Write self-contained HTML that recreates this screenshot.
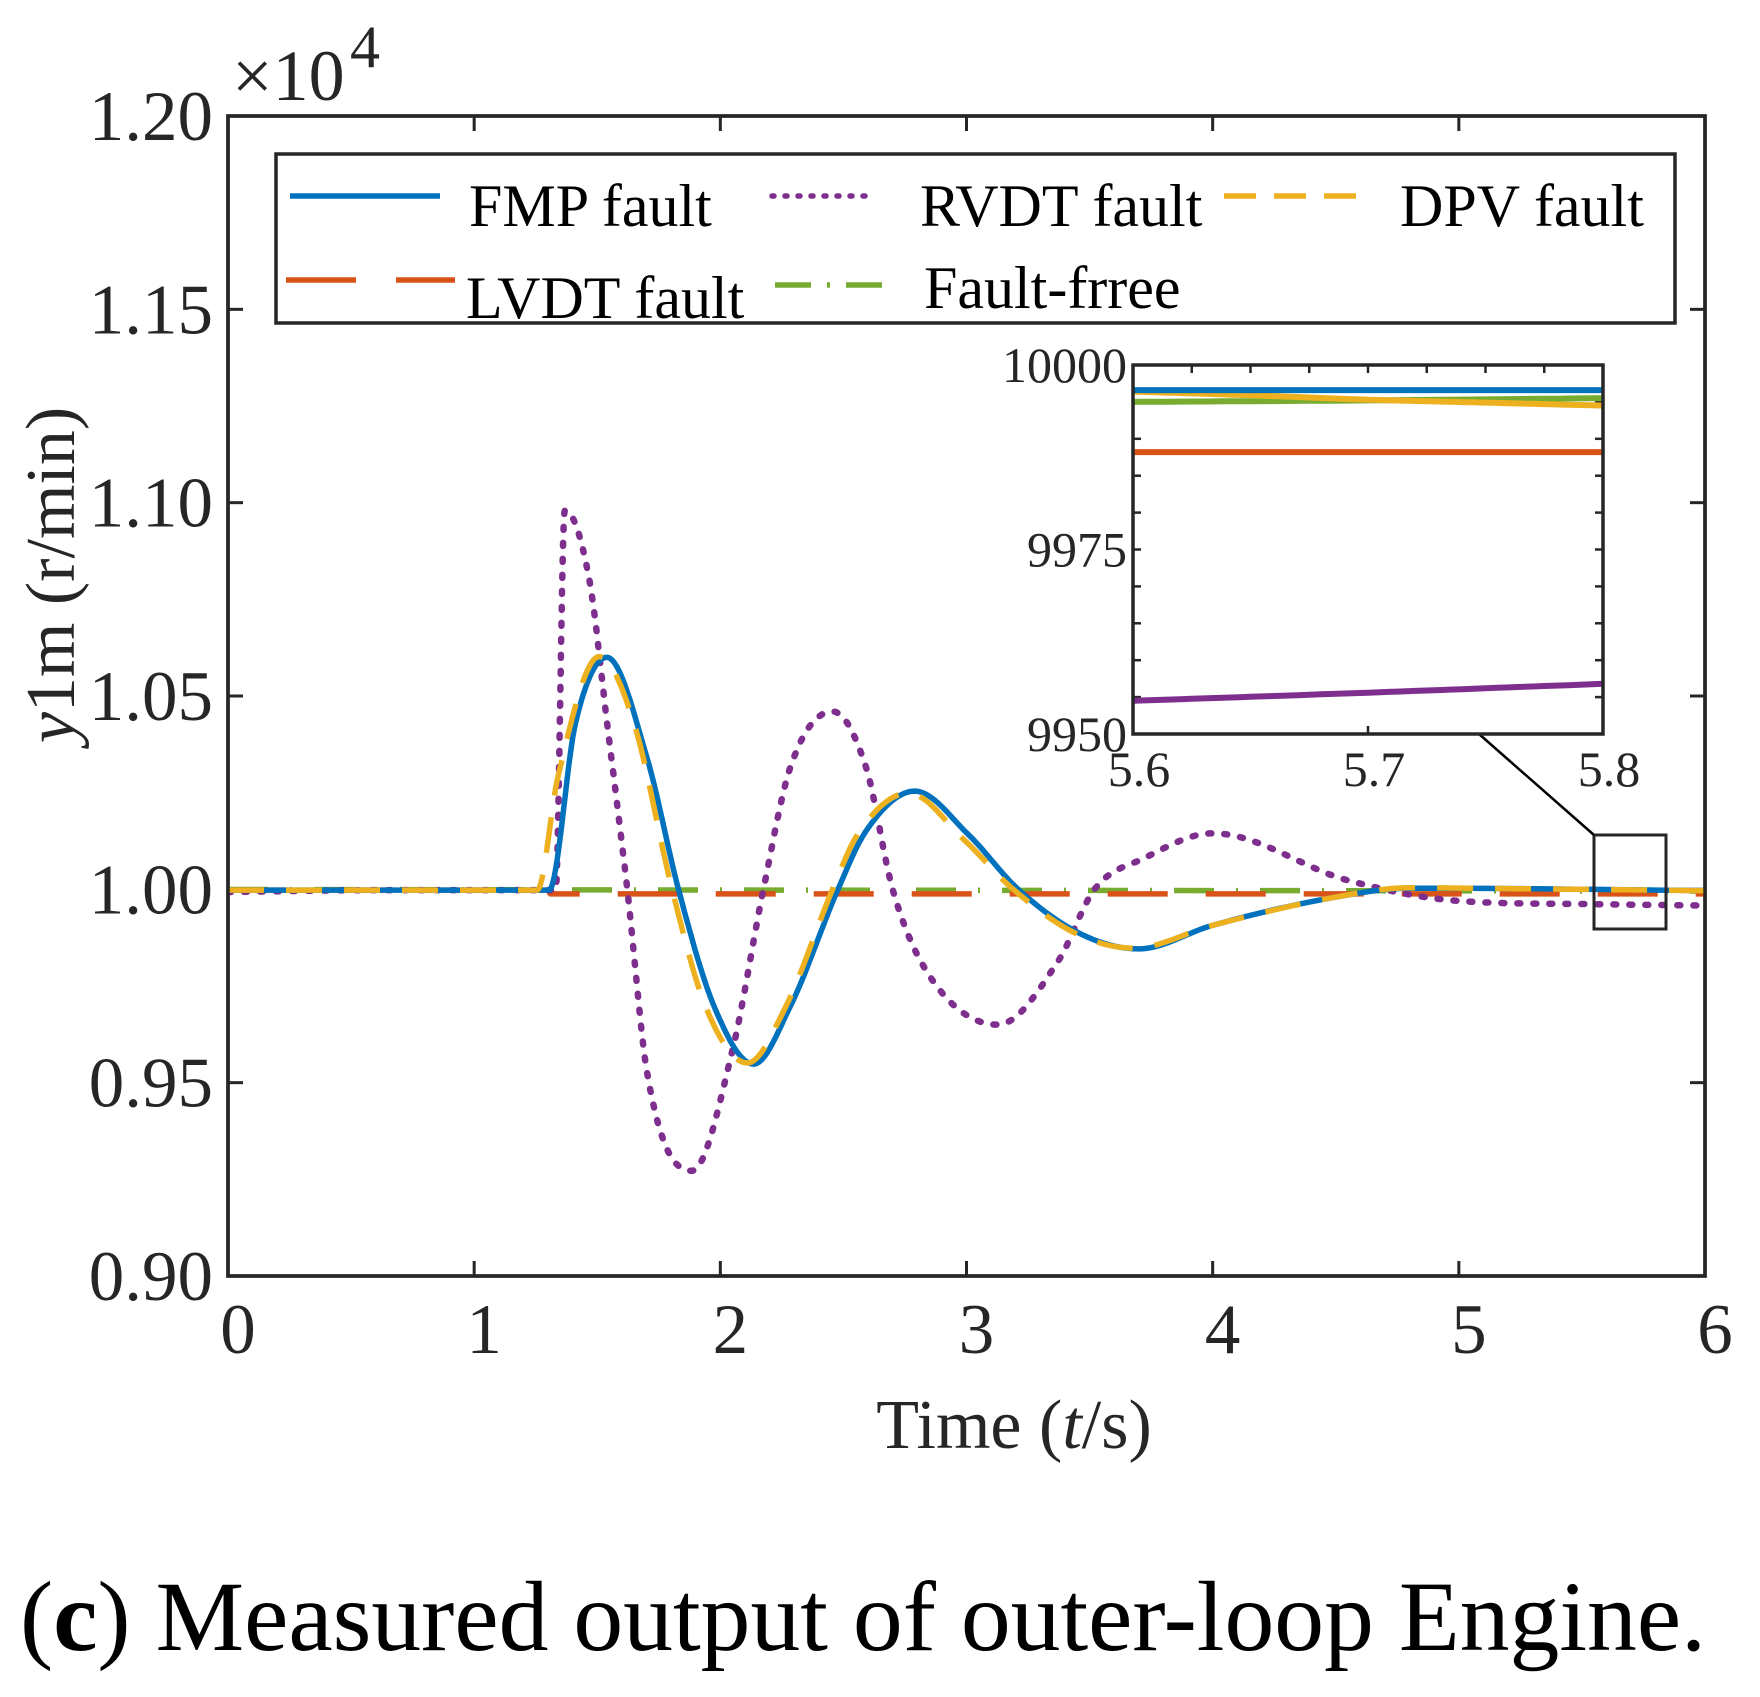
<!DOCTYPE html>
<html><head><meta charset="utf-8"><style>
html,body{margin:0;padding:0;background:#fff;}
svg{display:block;font-family:"Liberation Serif",serif;}
</style></head><body>
<svg id="chart" width="1760" height="1697" viewBox="0 0 1760 1697" xmlns="http://www.w3.org/2000/svg">
<defs>
<clipPath id="mainClip"><rect x="228" y="116" width="1477" height="1160"/></clipPath>
<clipPath id="insetClip"><rect x="1133" y="365" width="470" height="369"/></clipPath>
</defs>
<g id="main"></g>
<g id="inset"></g>
<text x="20" y="1650" font-size="100" textLength="1686" lengthAdjust="spacingAndGlyphs" fill="#000">(<tspan font-weight="bold">c</tspan>) Measured output of outer-loop Engine.</text>
</svg>
<script>
// ---- main chart data ----
const xTicks = [0,1,2,3,4,5,6];
const yTicks = [0.90,0.95,1.00,1.05,1.10,1.15,1.20];
const yTickLabels = ["0.90","0.95","1.00","1.05","1.10","1.15","1.20"];
const fmpT = [0,0.5,1.0,1.304,1.412,1.539,1.703,1.830,1.975,2.135,2.284,2.478,2.592,2.79,3.01,3.21,3.466,3.70,4.0,4.5,4.8,5.2,6.0];
const fmpV = [0.9998,0.9998,0.9998,0.9998,1.0431,1.0600,1.0338,1.0,0.9697,0.9548,0.9697,1.0,1.0151,1.0254,1.014,1.0,0.9884,0.9846,0.9907,0.998,1.0003,1.0002,0.99967];
const dpvT = [0,0.5,1.0,1.256,1.34,1.508,1.649,1.804,1.94,2.11,2.266,2.456,2.556,2.764,2.99,3.19,3.45,3.68,4.0,4.5,4.8,5.2,6.0];
const dpvV = [0.9998,0.9998,0.9998,0.9998,1.029,1.0602,1.043,1.0,0.9697,0.9551,0.9697,1.0,1.014,1.0249,1.0128,1.0,0.9884,0.9848,0.9907,0.998,1.0004,1.0002,0.99965];
const rvdtT = [0,0.3,0.6,1.0,1.331,1.368,1.468,1.540,1.622,1.704,1.885,2.048,2.175,2.284,2.456,2.592,2.70,2.846,3.127,3.372,3.52,3.72,4.0,4.55,5.0,5.5,6.0];
const rvdtV = [0.9993,0.9996,0.9998,0.9998,0.9998,1.098,1.080,1.043,1.0,0.952,0.9272,0.958,1.0,1.0315,1.046,1.0315,1.0,0.978,0.965,0.9814,1.0,1.008,1.0145,1.0023,0.997,0.9962,0.9958];
const lvdtT = [0,1.3,1.31,6.0];
const lvdtV = [0.9998,0.9998,0.99882,0.99882];
const freeT = [0,6.0];
const freeV = [0.99995,0.99955];
// ---- inset data (r/min) ----
const insetXTicks = [5.6,5.7,5.8];
const insetYTicks = [9950,9975,10000];
const inFmpT = [5.6,5.7,5.8];   const inFmpV = [9996.6,9996.6,9996.6];
const inDpvT = [5.6,5.65,5.7,5.75,5.8]; const inDpvV = [9996.4,9995.9,9995.3,9994.9,9994.5];
const inFreeT = [5.6,5.7,5.8];  const inFreeV = [9995.0,9995.2,9995.5];
const inLvdtT = [5.6,5.7,5.8];  const inLvdtV = [9988.2,9988.2,9988.2];
const inRvdtT = [5.6,5.7,5.8];  const inRvdtV = [9954.5,9955.6,9956.8];

const NS="http://www.w3.org/2000/svg";
function mk(tag,attrs,parent){const e=document.createElementNS(NS,tag);for(const k in attrs)e.setAttribute(k,attrs[k]);parent.appendChild(e);return e;}
const P={L:228,R:1705,T:116,B:1276};
const xS=t=>P.L+(t-0)/6*(P.R-P.L);
const yS=v=>P.B-(v-0.90)/0.30*(P.B-P.T);
const I={L:1133,R:1603,T:365,B:734};
const ixS=t=>I.L+(t-5.6)/0.2*(I.R-I.L);
const iyS=v=>I.B-(v-9950)/50*(I.B-I.T);

function monoPath(T,V,xf,yf){
  const n=T.length;const xs=T.map(xf),ys=V.map(yf);
  if(n<3){return "M"+xs.map((x,i)=>x.toFixed(1)+","+ys[i].toFixed(1)).join(" L");}
  const d=[],m=new Array(n);
  for(let i=0;i<n-1;i++)d.push((V[i+1]-V[i])/(T[i+1]-T[i]));
  m[0]=d[0];m[n-1]=d[n-2];
  for(let i=1;i<n-1;i++){m[i]=(d[i-1]*d[i]<=0)?0:(d[i-1]+d[i])/2;}
  for(let i=0;i<n-1;i++){if(d[i]===0){m[i]=0;m[i+1]=0;continue;}const a=m[i]/d[i],b=m[i+1]/d[i],s=a*a+b*b;if(s>9){const t=3/Math.sqrt(s);m[i]=t*a*d[i];m[i+1]=t*b*d[i];}}
  let p="M"+xs[0].toFixed(1)+","+ys[0].toFixed(1);
  for(let i=0;i<n-1;i++){const h=T[i+1]-T[i];
    for(let k=1;k<=20;k++){const s=k/20,s2=s*s,s3=s2*s;
      const v=(2*s3-3*s2+1)*V[i]+(s3-2*s2+s)*h*m[i]+(-2*s3+3*s2)*V[i+1]+(s3-s2)*h*m[i+1];
      p+=" L"+xf(T[i]+s*h).toFixed(1)+","+yf(v).toFixed(1);}}
  return p;
}
const C={fmp:"#0072BD",lvdt:"#D95319",rvdt:"#7E2F8E",dpv:"#EDB120",free:"#77AC30",ax:"#262626"};
const styles={
 fmp:{stroke:C.fmp,dash:null,w:5.5},
 lvdt:{stroke:C.lvdt,dash:"60 38",w:5.5},
 rvdt:{stroke:C.rvdt,dash:"3 13",cap:"round",w:6.5},
 dpv:{stroke:C.dpv,dash:"36 22",w:5.5},
 free:{stroke:C.free,dash:"40 22 2 22",w:5.5}
};
const main=document.getElementById('main');
const inset=document.getElementById('inset');

let r=mk('rect',{x:P.L,y:P.T,width:P.R-P.L,height:P.B-P.T,fill:'#fff',stroke:C.ax,'stroke-width':3.5},main);


xTicks.forEach(t=>{const x=xS(t);
  let a=mk('line',{x1:x,y1:P.B,x2:x,y2:P.B-15,stroke:C.ax,'stroke-width':3},main);
  
  
  let b=mk('line',{x1:x,y1:P.T,x2:x,y2:P.T+15,stroke:C.ax,'stroke-width':3},main);
  
  
  let tx=mk('text',{x:x+10,y:1353,'font-size':71,'text-anchor':'middle',fill:C.ax},main);tx.textContent=String(t);
  
  
});
yTicks.forEach((v,i)=>{const y=yS(v);
  let a=mk('line',{x1:P.L,y1:y,x2:P.L+15,y2:y,stroke:C.ax,'stroke-width':3},main);
  
  
  let b=mk('line',{x1:P.R,y1:y,x2:P.R-15,y2:y,stroke:C.ax,'stroke-width':3},main);
  
  
  let tx=mk('text',{x:213,y:y+24,'font-size':71,'text-anchor':'end',fill:C.ax},main);tx.textContent=yTickLabels[i];
  
  
});
const series=[["free",freeT,freeV],["lvdt",lvdtT,lvdtV],["rvdt",rvdtT,rvdtV],["fmp",fmpT,fmpV],["dpv",dpvT,dpvV]];
const gS=mk('g',{'clip-path':'url(#mainClip)'},main);


series.forEach(([k,T,V])=>{const st=styles[k];
  const a={d:monoPath(T,V,xS,yS),fill:'none',stroke:st.stroke,'stroke-width':st.w,'stroke-linecap':st.cap||'butt','stroke-linejoin':'round'};
  if(st.dash)a['stroke-dasharray']=st.dash;
  const p=mk('path',a,gS);
  
  
});
let fr=mk('rect',{x:P.L,y:P.T,width:P.R-P.L,height:P.B-P.T,fill:'none',stroke:C.ax,'stroke-width':3.5},main);


let ex=mk('text',{x:232,y:100,'font-size':72,fill:C.ax},main);ex.textContent='×10';


let ex4=mk('text',{x:350,y:67,'font-size':60,fill:C.ax},main);ex4.textContent='4';


let xt=mk('text',{x:1014,y:1448,'font-size':70,'text-anchor':'middle',fill:C.ax},main);
xt.innerHTML='Time (<tspan font-style="italic">t</tspan>/s)';


let yt=mk('text',{x:0,y:0,'font-size':70,'text-anchor':'middle',fill:C.ax,transform:'translate(74,575) rotate(-90)'},main);
yt.innerHTML='<tspan font-style="italic">y</tspan>1m (r/min)';



const lg=mk('g',{},main);


let lb=mk('rect',{x:276,y:154,width:1399,height:169,fill:'#fff',stroke:C.ax,'stroke-width':3.5},lg);


const legItems=[["fmp","FMP fault",290,440,196,469,226],["rvdt","RVDT fault",772,876,196,920,226],["dpv","DPV fault",1224,1370,196,1400,226],["lvdt","LVDT fault",286,455,280,466,318],["free","Fault-frree",775,887,285,924,308]];
legItems.forEach(([k,label,x1,x2,y,tx,ty])=>{const st=styles[k];
  const a={x1:x1,y1:y,x2:x2,y2:y,stroke:st.stroke,'stroke-width':5.5,'stroke-linecap':st.cap||'butt'};
  if(k==='lvdt')a['stroke-dasharray']='70 40';else if(k==='rvdt')a['stroke-dasharray']='2 11';else if(k==='dpv')a['stroke-dasharray']='32 18';else if(k==='free')a['stroke-dasharray']='36 16 3 16';
  const l=mk('line',a,lg);
  
  
  const t=mk('text',{x:tx,y:ty,'font-size':60,fill:'#000'},lg);t.textContent=label;
  
  
});

let zb=mk('rect',{x:1594,y:835,width:72,height:94,fill:'none',stroke:C.ax,'stroke-width':3},main);


let cn=mk('line',{x1:1479,y1:734,x2:1594,y2:835,stroke:'#000','stroke-width':2.5},main);



let ib=mk('rect',{x:I.L,y:I.T,width:I.R-I.L,height:I.B-I.T,fill:'#fff',stroke:'none'},inset);


for(let k=0;k<=10;k++){const v=9950+k*5,y=iyS(v);
  let a=mk('line',{x1:I.L,y1:y,x2:I.L+8,y2:y,stroke:C.ax,'stroke-width':2.5},inset);
  
  
  let b=mk('line',{x1:I.R,y1:y,x2:I.R-8,y2:y,stroke:C.ax,'stroke-width':2.5},inset);
  
  
}
for(let k=0;k<=8;k++){const x=ixS(5.6+k*0.025);
  let a=mk('line',{x1:x,y1:I.T,x2:x,y2:I.T+8,stroke:C.ax,'stroke-width':2.5},inset);
  
  
}
insetXTicks.forEach(t=>{const x=ixS(t);
  let a=mk('line',{x1:x,y1:I.B,x2:x,y2:I.B-8,stroke:C.ax,'stroke-width':2.5},inset);
  
  
  let tx=mk('text',{x:x+6,y:786,'font-size':50,'text-anchor':'middle',fill:C.ax},inset);tx.textContent=t.toFixed(1);
  
  
});
insetYTicks.forEach(v=>{const y=iyS(v);
  let tx=mk('text',{x:1127,y:y+17,'font-size':50,'text-anchor':'end',fill:C.ax},inset);tx.textContent=String(v);
  
  
});
const gI=mk('g',{'clip-path':'url(#insetClip)'},inset);


[["rvdt",inRvdtT,inRvdtV],["lvdt",inLvdtT,inLvdtV],["free",inFreeT,inFreeV],["dpv",inDpvT,inDpvV],["fmp",inFmpT,inFmpV]].forEach(([k,T,V])=>{
  const p=mk('path',{d:monoPath(T,V,ixS,iyS),fill:'none',stroke:styles[k].stroke,'stroke-width':6},gI);
  
  
});
let ifr=mk('rect',{x:I.L,y:I.T,width:I.R-I.L,height:I.B-I.T,fill:'none',stroke:C.ax,'stroke-width':3.5},inset);


</script>
</body></html>
